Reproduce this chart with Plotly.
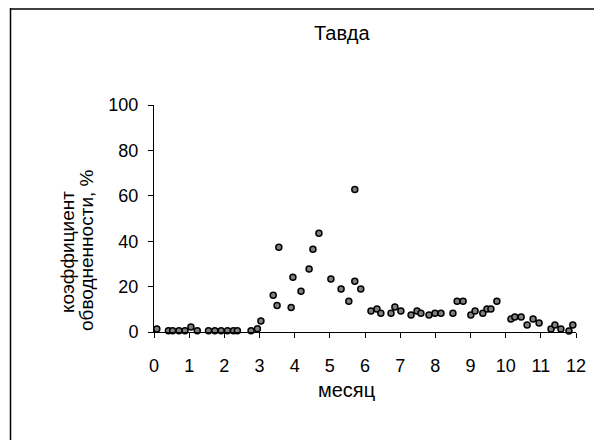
import plotly.graph_objects as go

# month (fractional) and water-content coefficient, %
months = [0.08, 0.41, 0.53, 0.71, 0.88, 1.05, 1.23, 1.55, 1.73, 1.91,
          2.09, 2.26, 2.37, 2.76, 2.94, 3.04, 3.39, 3.50, 3.55, 3.90,
          3.95, 4.18, 4.41, 4.52, 4.69, 5.03, 5.32, 5.54, 5.71, 5.71,
          5.88, 6.17, 6.34, 6.45, 6.74, 6.85, 7.02, 7.31, 7.48, 7.59,
          7.82, 7.99, 8.16, 8.50, 8.62, 8.79, 9.01, 9.13, 9.35, 9.47,
          9.58, 9.75, 10.15, 10.26, 10.44, 10.61, 10.78, 10.95, 11.29, 11.40,
          11.57, 11.80, 11.91]
coef = [1.3, 0.5, 0.5, 0.5, 0.5, 2.2, 0.5, 0.5, 0.5, 0.5,
        0.5, 0.5, 0.5, 0.5, 1.4, 4.8, 16.2, 11.7, 37.3, 10.8,
        24.1, 18.0, 27.7, 36.5, 43.5, 23.3, 18.9, 13.6, 62.8, 22.4,
        18.9, 9.2, 10.1, 8.3, 8.3, 11.0, 9.2, 7.5, 9.2, 8.3,
        7.5, 8.3, 8.3, 8.3, 13.6, 13.6, 7.5, 9.2, 8.3, 10.1,
        10.1, 13.6, 5.7, 6.6, 6.6, 3.1, 5.7, 4.0, 1.3, 3.1,
        1.3, 0.4, 3.1]

x_ticks = list(range(0, 13))
y_ticks = [0, 20, 40, 60, 80, 100]

title_text = "Тавда"
x_title = "месяц"
y_title_lines = ["коэффициент", "обводненности, %"]

FONT = "Liberation Sans, Arial, sans-serif"
OFF = 8  # page body margin
W, H = 602 - OFF, 440 - OFF
L, T = 154 - OFF, 105 - OFF
R = W - (576 - OFF)
B = H - (332 - OFF)
pw, ph = W - L - R, H - T - B


def px_x(p):
    # page pixel -> paper x
    return (p - OFF - L) / pw


def px_y(p):
    # page pixel -> paper y
    return (H - B - (p - OFF)) / ph


fig = go.Figure()
fig.add_trace(go.Scatter(
    x=months, y=coef, mode="markers",
    marker=dict(size=6, color="#808080", line=dict(color="#000000", width=1.5)),
    cliponaxis=False, showlegend=False,
))

axis_common = dict(showline=True, linecolor="#000000", linewidth=1,
                   ticks="outside", ticklen=5, tickcolor="#000000", tickwidth=1,
                   showgrid=False, zeroline=False,
                   tickfont=dict(family=FONT, size=18, color="#000000"))

fig.update_xaxes(range=[0, 12], tickvals=x_ticks, ticktext=[str(v) for v in x_ticks],
                 ticklabelstandoff=12, **axis_common)
fig.update_yaxes(range=[0, 100], tickvals=y_ticks, ticktext=[str(v) for v in y_ticks],
                 ticklabelstandoff=6, **axis_common)

annotations = [
    dict(text=title_text, x=px_x(342), y=px_y(33), xref="paper", yref="paper",
         showarrow=False, xanchor="center", yanchor="middle",
         font=dict(family=FONT, size=20, color="#000000")),
    dict(text=x_title, x=px_x(346), y=px_y(390), xref="paper", yref="paper",
         showarrow=False, xanchor="center", yanchor="middle",
         font=dict(family=FONT, size=20, color="#000000")),
    dict(text=y_title_lines[0], x=px_x(68), y=px_y(252), xref="paper", yref="paper",
         showarrow=False, xanchor="center", yanchor="middle", textangle=-90,
         font=dict(family=FONT, size=19, color="#000000")),
    dict(text=y_title_lines[1], x=px_x(86), y=px_y(250), xref="paper", yref="paper",
         showarrow=False, xanchor="center", yanchor="middle", textangle=-90,
         font=dict(family=FONT, size=19, color="#000000")),
]

shapes = [
    dict(type="line", xref="paper", yref="paper", x0=px_x(10), x1=px_x(602),
         y0=px_y(9), y1=px_y(9), line=dict(color="#404040", width=2)),
    dict(type="line", xref="paper", yref="paper", x0=px_x(10.5), x1=px_x(10.5),
         y0=px_y(8), y1=px_y(440), line=dict(color="#000000", width=1.5)),
]

fig.update_layout(
    width=W, height=H,
    margin=dict(l=L, r=R, t=T, b=B, pad=0),
    paper_bgcolor="#ffffff", plot_bgcolor="#ffffff",
    annotations=annotations, shapes=shapes,
    font=dict(family=FONT, color="#000000"),
)

fig.write_html("out.html")
